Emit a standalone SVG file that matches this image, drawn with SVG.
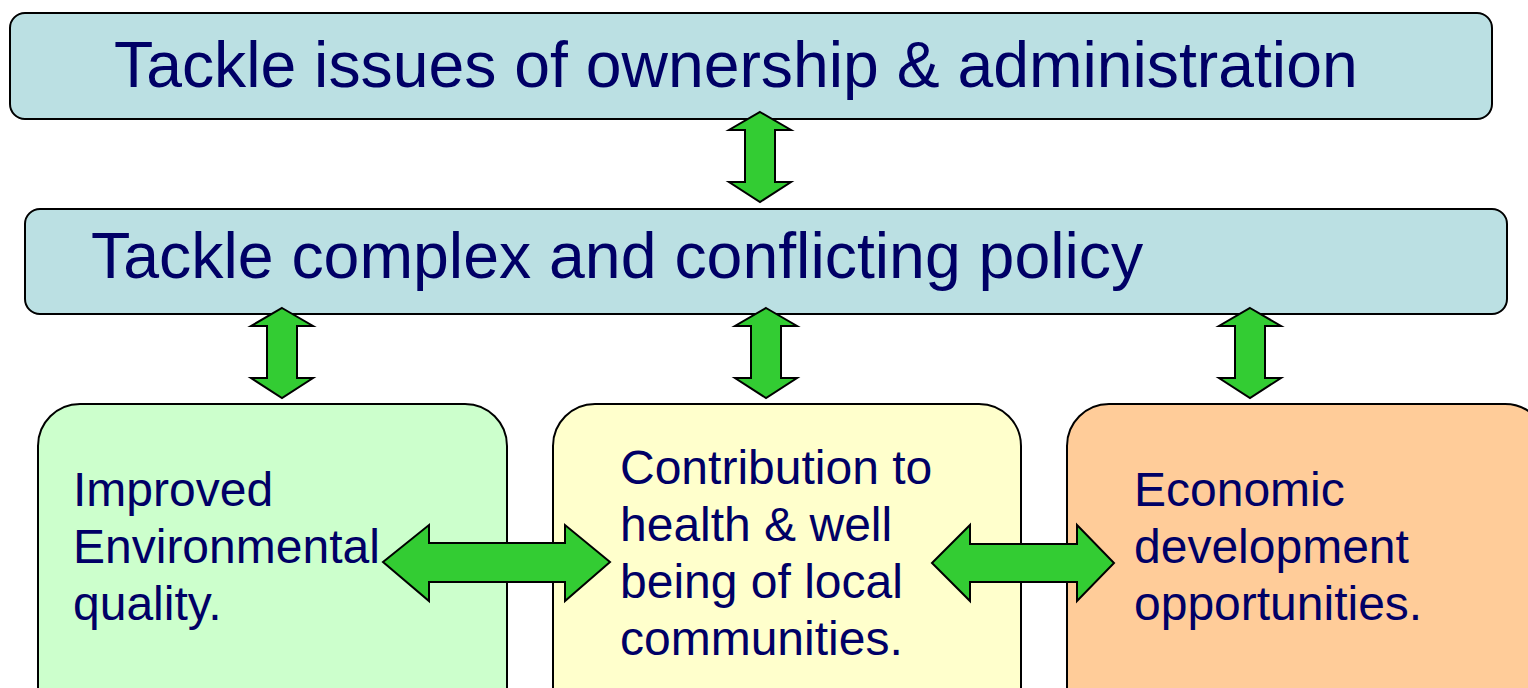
<svg xmlns="http://www.w3.org/2000/svg" width="1528" height="688" viewBox="0 0 1528 688">
<style>
.box{stroke:#000;stroke-width:2}
.hdr{fill:#BBE0E3}
.arr{fill:#33CC33;stroke:#000;stroke-width:2;stroke-linejoin:miter}
text{font-family:"Liberation Sans",Arial,sans-serif;fill:#000066}
.big{font-size:64.3px}
.big2{font-size:64.4px}
.sm{font-size:48px}
</style>
<rect width="1528" height="688" fill="#fff"/>
<g id="node-ownership">
<rect class="box hdr" x="10" y="13" width="1482" height="106" rx="15"/>
<text class="big" x="114" y="87">Tackle issues of ownership &amp; administration</text>
</g>
<g id="node-policy">
<rect class="box hdr" x="25" y="209" width="1482" height="105" rx="15"/>
<text class="big2" x="91" y="278">Tackle complex and conflicting policy</text>
</g>
<g id="node-environment">
<rect class="box" fill="#CCFFCC" x="38" y="404" width="469" height="330" rx="42"/>
<text class="sm" x="73"><tspan x="73" y="506">Improved</tspan><tspan x="73" y="563">Environmental</tspan><tspan x="73" y="620">quality.</tspan></text>
</g>
<g id="node-health">
<rect class="box" fill="#FFFFCC" x="553" y="404" width="468" height="330" rx="42"/>
<text class="sm"><tspan x="620" y="484">Contribution to</tspan><tspan x="620" y="541">health &amp; well</tspan><tspan x="620" y="598">being of local</tspan><tspan x="620" y="655">communities.</tspan></text>
</g>
<g id="node-economic">
<rect class="box" fill="#FFCC99" x="1067" y="404" width="480" height="330" rx="42"/>
<text class="sm"><tspan x="1134" y="506">Economic</tspan><tspan x="1134" y="563">development</tspan><tspan x="1134" y="620">opportunities.</tspan></text>
</g>
<g id="connectors">
<defs>
<path id="varr" d="M0,0 L31,18 L15,18 L15,70 L31,70 L0,90 L-31,70 L-15,70 L-15,18 L-31,18 Z"/>
</defs>
<use href="#varr" class="arr" transform="translate(760,112)"/>
<use href="#varr" class="arr" transform="translate(282,308)"/>
<use href="#varr" class="arr" transform="translate(766,308)"/>
<use href="#varr" class="arr" transform="translate(1250,308)"/>
<path class="arr" d="M383,562 L429,525 L429,543 L565,543 L565,525 L610,562 L565,601 L565,582 L429,582 L429,601 Z"/>
<path class="arr" d="M932,563 L970,525 L970,544 L1077,544 L1077,525 L1114,563 L1077,601 L1077,582 L970,582 L970,601 Z"/>
</g>
</svg>
